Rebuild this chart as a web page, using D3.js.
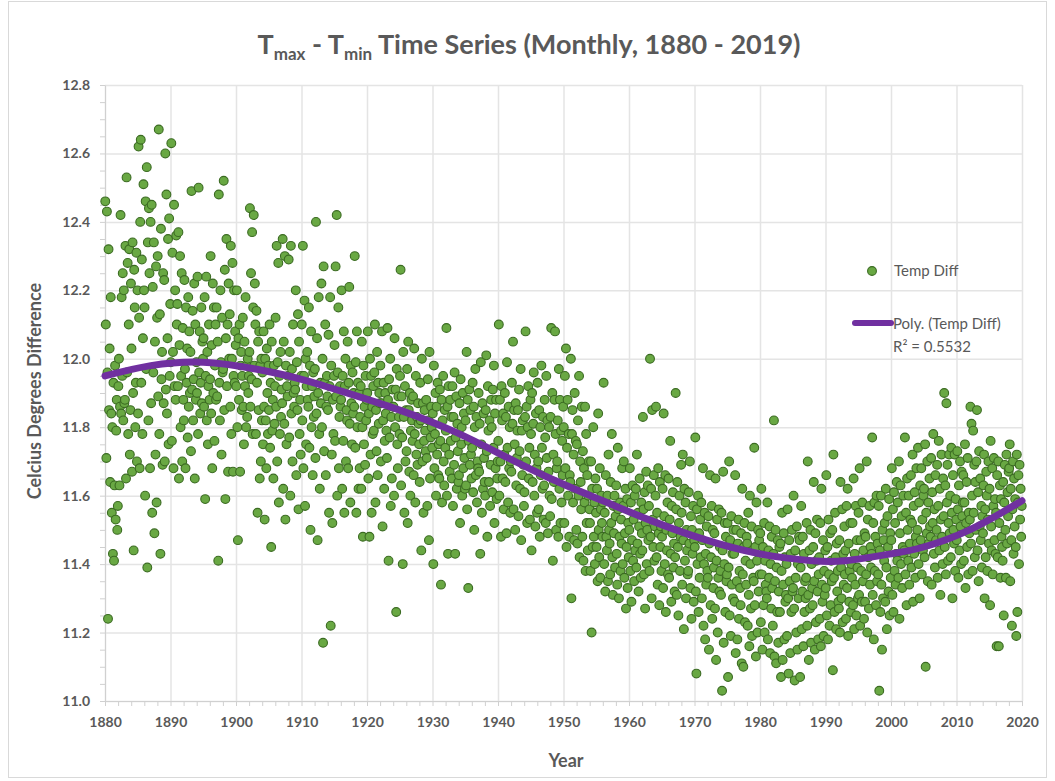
<!DOCTYPE html>
<html>
<head>
<meta charset="utf-8">
<script src="https://cdn.jsdelivr.net/npm/d3@7"></script>
<style>
  body { margin: 0; background: #fff; }
  svg { display: block; font-family: Lato, "Open Sans", sans-serif; }
</style>
</head>
<body>
<div id="chart"></div>
<script>
// monthly Tmax - Tmin values, one array per decade (12 per year)
const d1880s = [
  12.46,12.10,11.71,12.43,11.96,11.24,12.32,11.85,12.03,11.64,12.18,11.84,
  11.55,11.80,11.43,11.93,11.41,11.63,11.98,11.53,11.79,11.88,11.50,11.57,
  11.92,12.00,11.63,11.86,12.42,11.84,12.18,11.95,12.25,11.82,12.20,11.87,
  11.88,12.33,11.65,12.53,11.96,12.28,11.78,12.10,12.32,11.72,11.85,12.22,
  12.03,11.67,12.34,11.90,11.44,12.26,12.15,11.80,11.93,12.31,11.70,12.20,
  11.84,12.62,12.12,11.68,12.40,12.64,11.93,12.29,11.78,12.06,12.51,12.20,
  12.15,11.60,12.46,11.97,12.56,11.39,12.34,11.82,12.44,12.25,11.68,12.40,
  11.87,12.45,11.55,12.21,11.96,12.34,11.49,12.05,11.72,12.27,11.58,12.12,
  12.30,11.89,12.67,11.78,12.13,11.43,12.38,11.94,12.02,11.69,12.25,11.87,
  12.23,11.70,12.60,11.91,12.48,11.84,12.06,12.35,11.75,12.41,11.95,12.16
];
const d1890s = [
  11.99,12.63,11.76,12.31,12.02,11.68,12.45,11.92,12.20,11.88,12.36,12.10,
  12.16,11.92,12.37,11.65,12.04,12.30,11.80,11.95,12.25,11.70,12.09,11.88,
  11.82,12.23,11.97,11.68,12.15,11.93,12.03,11.77,12.18,11.86,12.08,11.90,
  12.02,11.73,12.49,11.91,12.14,11.82,11.94,12.22,11.65,12.10,11.88,11.99,
  11.90,12.24,11.78,12.50,11.96,12.08,11.84,11.93,12.15,11.87,12.05,12.00,
  12.06,11.86,12.18,11.59,11.95,12.24,11.82,12.02,11.75,11.92,12.10,11.88,
  11.94,12.30,11.84,12.04,11.68,12.22,11.90,12.15,11.76,11.98,12.10,11.88,
  12.15,11.89,12.05,11.41,12.48,11.93,11.82,12.20,11.99,11.72,12.12,11.96,
  11.97,12.52,11.85,12.26,11.59,12.06,12.35,11.92,12.10,11.67,12.22,12.00,
  12.13,11.86,12.33,11.78,12.00,12.28,11.67,11.95,12.20,11.93,12.08,12.04
];
const d1900s = [
  11.92,12.20,11.80,11.47,12.06,11.88,12.10,11.67,11.98,12.02,11.85,11.95,
  12.12,11.86,11.75,12.05,11.92,12.18,11.80,11.98,11.83,12.00,11.90,11.95,
  12.02,12.44,11.86,12.25,11.94,12.37,11.78,12.15,12.42,11.98,12.22,12.10,
  11.78,12.14,11.93,11.55,12.05,11.85,12.08,11.65,11.98,11.70,12.00,11.82,
  11.96,11.75,12.08,11.86,11.53,12.00,11.82,11.68,12.03,11.90,11.78,11.98,
  11.85,12.10,11.74,11.93,11.45,12.05,11.79,11.88,11.65,11.98,11.81,11.92,
  12.12,11.86,12.33,11.70,11.99,12.28,11.58,11.95,11.78,12.02,11.83,11.91,
  11.87,12.35,11.62,12.05,11.81,12.30,11.53,11.98,11.75,11.92,11.89,11.95,
  12.29,11.77,12.02,11.60,12.33,11.84,11.97,11.70,12.10,11.90,11.86,11.93,
  11.91,12.20,11.66,11.99,11.85,12.13,11.56,12.05,11.78,11.88,11.72,11.95
];
const d1910s = [
  12.10,11.82,12.33,11.68,11.95,12.17,11.57,12.00,11.75,11.92,12.02,11.88,
  11.86,12.15,11.74,11.98,11.50,12.08,11.80,11.92,11.66,11.96,11.83,11.89,
  11.97,11.71,12.40,11.84,12.06,11.47,11.90,12.18,11.78,11.62,11.93,11.87,
  12.22,11.80,12.00,11.17,12.27,11.73,11.93,12.10,11.66,11.86,11.95,11.89,
  11.85,12.07,11.55,11.92,12.18,11.22,11.98,11.72,11.52,11.88,11.78,11.95,
  12.04,11.76,12.27,11.89,12.42,11.60,11.96,12.15,11.68,11.83,11.92,11.86,
  11.88,12.20,11.62,11.95,11.76,12.08,11.55,11.92,12.00,11.70,11.85,11.82,
  12.05,11.68,11.93,12.21,11.81,11.58,11.98,11.87,11.75,11.96,11.84,11.90,
  11.86,12.30,11.74,11.99,11.55,12.08,11.80,11.93,11.62,11.90,11.68,11.83,
  11.92,11.62,12.05,11.80,11.48,11.98,11.75,11.86,11.69,11.95,11.82,11.88
];
const d1920s = [
  11.90,12.08,11.65,11.84,11.48,12.00,11.72,11.95,11.55,11.86,11.78,11.92,
  11.79,11.96,12.10,11.58,11.85,11.73,12.02,11.66,11.93,11.81,11.90,11.87,
  11.98,11.70,11.87,12.08,11.51,11.82,11.93,11.62,11.76,11.90,11.84,11.79,
  11.71,12.09,11.88,11.41,11.94,11.77,12.00,11.57,11.83,11.65,11.91,11.86,
  11.86,11.60,12.06,11.80,11.91,11.26,11.97,11.75,11.68,11.89,11.83,11.78,
  11.95,12.26,11.63,11.89,11.77,11.40,12.02,11.83,11.55,11.92,11.70,11.85,
  11.73,11.97,11.52,12.05,11.85,11.67,11.90,11.60,11.79,11.88,11.82,11.76,
  11.89,11.66,12.03,11.78,11.58,11.95,11.72,11.83,11.69,11.87,11.81,11.75,
  11.64,11.93,11.82,11.44,12.00,11.70,11.87,11.55,11.76,11.85,11.79,11.73,
  11.88,11.71,11.57,11.94,11.82,11.47,12.02,11.65,11.77,11.86,11.80,11.74
];
const d1930s = [
  11.84,11.40,11.98,11.68,11.78,11.90,11.60,11.86,11.72,11.93,11.66,11.75,
  11.65,11.91,11.76,11.34,11.88,11.58,11.82,11.95,11.70,11.63,11.85,11.74,
  11.79,12.09,11.60,11.86,11.43,11.92,11.72,11.67,11.88,11.76,11.83,11.65,
  11.92,11.57,11.83,11.69,11.96,11.43,11.77,11.89,11.62,11.81,11.73,11.64,
  11.66,11.87,11.52,11.94,11.75,11.80,11.60,11.90,11.68,11.84,11.71,11.62,
  11.82,11.63,12.02,11.56,11.88,11.33,11.76,11.91,11.69,11.85,11.72,11.65,
  11.74,11.93,11.61,11.86,11.50,11.80,11.97,11.66,11.83,11.58,11.70,11.68,
  11.90,11.67,11.81,11.43,11.99,11.75,11.55,11.87,11.62,11.84,11.71,11.64,
  11.60,11.85,12.01,11.73,11.48,11.92,11.79,11.64,11.82,11.57,11.69,11.88,
  11.80,11.61,11.91,11.74,11.98,11.52,11.84,11.68,11.88,11.59,11.65,11.70
];
const d1940s = [
  11.76,12.10,11.60,11.88,11.70,11.48,11.92,11.82,11.65,11.84,11.56,11.72,
  11.90,11.64,11.83,11.49,11.99,11.74,11.58,11.86,11.68,11.80,11.55,11.70,
  11.67,11.93,11.81,12.05,11.56,11.85,11.75,11.50,11.87,11.63,11.71,11.79,
  11.85,11.54,11.91,11.73,11.62,11.97,11.47,11.79,11.66,11.82,11.69,11.57,
  11.61,11.83,12.08,11.70,11.86,11.52,11.80,11.92,11.65,11.74,11.53,11.88,
  11.78,11.44,11.90,11.64,11.81,11.96,11.60,11.72,11.51,11.84,11.68,11.55,
  11.93,11.70,11.56,11.85,11.48,11.80,11.66,11.98,11.74,11.62,11.83,11.53,
  11.63,11.88,11.77,11.52,11.95,11.71,11.82,11.49,11.67,11.80,11.60,11.54,
  11.83,12.09,11.59,11.90,11.41,11.72,11.64,11.88,12.08,11.78,11.50,11.68,
  11.70,11.82,11.48,11.97,11.62,11.88,11.52,11.79,11.58,11.76,11.66,11.86
];
const d1950s = [
  11.80,11.52,11.95,11.68,12.03,11.45,11.74,11.88,11.60,11.78,11.48,11.66,
  11.64,12.00,11.30,11.78,11.85,11.58,11.72,11.47,11.90,11.62,11.76,11.50,
  11.75,11.46,11.82,11.60,11.95,11.42,11.70,11.64,11.56,11.86,11.48,11.73,
  11.41,11.68,11.58,11.86,11.38,11.78,11.52,11.66,11.44,11.60,11.70,11.56,
  11.52,11.38,11.70,11.20,11.62,11.45,11.80,11.48,11.58,11.40,11.65,11.55,
  11.45,11.62,11.35,11.84,11.50,11.42,11.68,11.36,11.56,11.60,11.52,11.48,
  11.58,11.93,11.40,11.55,11.32,11.66,11.48,11.44,11.60,11.35,11.72,11.50,
  11.46,11.37,11.64,11.52,11.78,11.42,11.31,11.57,11.49,11.60,11.39,11.54,
  11.63,11.43,11.34,11.74,11.56,11.30,11.48,11.58,11.38,11.53,11.46,11.68,
  11.40,11.57,11.70,11.36,11.49,11.62,11.27,11.45,11.59,11.33,11.52,11.42
];
const d1960s = [
  11.50,11.68,11.38,11.58,11.29,11.47,11.63,11.41,11.53,11.35,11.60,11.44,
  11.62,11.39,11.72,11.46,11.55,11.32,11.51,11.65,11.43,11.36,11.58,11.49,
  11.44,11.83,11.56,11.37,11.61,11.27,11.52,11.67,11.40,11.50,11.63,11.47,
  11.57,11.38,12.00,11.48,11.62,11.30,11.85,11.53,11.45,11.66,11.41,11.51,
  11.60,11.86,11.42,11.55,11.34,11.68,11.49,11.28,11.64,11.45,11.51,11.38,
  11.48,11.62,11.33,11.84,11.54,11.40,11.66,11.26,11.50,11.44,11.58,11.37,
  11.65,11.36,11.53,11.76,11.43,11.29,11.57,11.49,11.61,11.39,11.46,11.32,
  11.42,11.90,11.56,11.31,11.64,11.45,11.25,11.52,11.60,11.38,11.48,11.69,
  11.55,11.34,11.72,11.47,11.21,11.62,11.41,11.58,11.30,11.50,11.44,11.37,
  11.38,11.61,11.46,11.70,11.33,11.54,11.24,11.50,11.43,11.57,11.29,11.47
];
const d1970s = [
  11.45,11.77,11.32,11.08,11.56,11.40,11.60,11.26,11.49,11.36,11.53,11.42,
  11.58,11.30,11.47,11.68,11.22,11.40,11.55,11.18,11.43,11.34,11.51,11.38,
  11.36,11.54,11.15,11.46,11.66,11.28,11.42,11.57,11.24,11.50,11.33,11.39,
  11.49,11.27,11.65,11.12,11.41,11.53,11.20,11.36,11.56,11.32,11.45,11.38,
  11.31,11.55,11.03,11.44,11.67,11.17,11.40,11.52,11.26,11.48,11.35,11.37,
  11.52,11.07,11.39,11.70,11.25,11.47,11.19,11.54,11.34,11.43,11.30,11.50,
  11.43,11.29,11.66,11.14,11.50,11.35,11.18,11.46,11.53,11.24,11.38,11.33,
  11.28,11.49,11.11,11.62,11.37,11.10,11.45,11.52,11.23,11.41,11.34,11.48,
  11.46,11.22,11.55,11.31,11.16,11.60,11.40,11.27,11.51,11.19,11.44,11.36,
  11.35,11.74,11.28,11.45,11.13,11.58,11.41,11.20,11.50,11.32,11.47,11.37
];
const d1980s = [
  11.49,11.23,11.62,11.37,11.15,11.45,11.28,11.52,11.20,11.41,11.34,11.32,
  11.30,11.58,11.18,11.44,11.36,11.51,11.14,11.40,11.27,11.48,11.33,11.22,
  11.43,11.82,11.13,11.35,11.50,11.11,11.39,11.26,11.47,11.17,11.32,11.45,
  11.26,11.46,11.07,11.38,11.55,11.12,11.34,11.49,11.18,11.42,11.29,11.31,
  11.40,11.19,11.56,11.30,11.08,11.47,11.35,11.14,11.43,11.26,11.50,11.32,
  11.33,11.60,11.27,11.06,11.44,11.36,11.20,11.51,11.15,11.40,11.30,11.48,
  11.47,11.07,11.39,11.57,11.21,11.32,11.48,11.16,11.43,11.26,11.35,11.30,
  11.36,11.52,11.22,11.70,11.31,11.12,11.44,11.27,11.50,11.17,11.40,11.33,
  11.28,11.45,11.64,11.35,11.15,11.49,11.23,11.41,11.53,11.32,11.18,11.37,
  11.42,11.24,11.52,11.16,11.62,11.34,11.29,11.47,11.19,11.38,11.31,11.44
];
const d1990s = [
  11.33,11.66,11.25,11.45,11.18,11.53,11.37,11.22,11.49,11.28,11.41,11.35,
  11.50,11.09,11.72,11.36,11.26,11.55,11.42,11.21,11.46,11.32,11.38,11.29,
  11.27,11.47,11.20,11.64,11.39,11.30,11.56,11.23,11.43,11.34,11.51,11.37,
  11.44,11.24,11.57,11.33,11.62,11.19,11.46,11.29,11.38,11.52,11.26,11.40,
  11.36,11.52,11.28,11.65,11.21,11.43,11.34,11.57,11.25,11.47,11.39,11.30,
  11.55,11.31,11.68,11.22,11.47,11.38,11.29,11.58,11.35,11.44,11.24,11.49,
  11.29,11.48,11.37,11.70,11.20,11.53,11.42,11.27,11.57,11.34,11.45,11.39,
  11.43,11.77,11.31,11.52,11.18,11.58,11.38,11.48,11.28,11.60,11.35,11.46,
  11.37,11.57,11.03,11.44,11.26,11.60,11.34,11.15,11.50,11.30,11.47,11.41,
  11.52,11.29,11.62,11.39,11.21,11.54,11.45,11.32,11.59,11.25,11.49,11.36
];
const d2000s = [
  11.47,11.68,11.31,11.56,11.26,11.61,11.38,11.52,11.34,11.43,11.64,11.41,
  11.58,11.36,11.70,11.24,11.49,11.63,11.40,11.54,11.33,11.45,11.60,11.43,
  11.44,11.77,11.37,11.55,11.28,11.65,11.50,11.41,11.60,11.34,11.46,11.53,
  11.66,11.39,11.52,11.72,11.29,11.57,11.43,11.61,11.36,11.48,11.68,11.46,
  11.50,11.74,11.40,11.58,11.30,11.63,11.47,11.68,11.37,11.53,11.44,11.60,
  11.62,11.42,11.75,11.10,11.55,11.49,11.70,11.35,11.58,11.46,11.65,11.51,
  11.48,11.71,11.34,11.61,11.52,11.78,11.43,11.56,11.39,11.66,11.47,11.50,
  11.69,11.36,11.57,11.76,11.44,11.62,11.31,11.53,11.72,11.48,11.40,11.65,
  11.54,11.90,11.45,11.63,11.37,11.87,11.58,11.69,11.41,11.52,11.72,11.49,
  11.60,11.42,11.74,11.55,11.30,11.66,11.50,11.46,11.72,11.38,11.59,11.53
];
const d2010s = [
  11.47,11.73,11.56,11.36,11.63,11.44,11.70,11.51,11.40,11.67,11.54,11.58,
  11.66,11.41,11.58,11.75,11.33,11.52,11.64,11.45,11.71,11.37,11.55,11.49,
  11.53,11.86,11.46,11.81,11.60,11.38,11.79,11.55,11.69,11.42,11.64,11.50,
  11.70,11.85,11.44,11.61,11.35,11.73,11.51,11.65,11.47,11.57,11.39,11.54,
  11.49,11.63,11.72,11.30,11.56,11.42,11.67,11.60,11.38,11.53,11.70,11.46,
  11.62,11.28,11.76,11.51,11.44,11.68,11.37,11.57,11.71,11.47,11.59,11.43,
  11.55,11.16,11.66,11.42,11.70,11.16,11.52,11.63,11.36,11.59,11.48,11.45,
  11.41,11.64,11.25,11.58,11.69,11.50,11.36,11.72,11.46,11.61,11.54,11.67,
  11.68,11.75,11.35,11.62,11.47,11.22,11.56,11.70,11.43,11.65,11.51,11.59,
  11.45,11.19,11.72,11.26,11.58,11.66,11.40,11.69,11.53,11.62,11.48,11.57
];
const decadeStarts = [1880, 1890, 1900, 1910, 1920, 1930, 1940, 1950, 1960, 1970, 1980, 1990, 2000, 2010];
const decadeValues = [d1880s, d1890s, d1900s, d1910s, d1920s, d1930s, d1940s,
                      d1950s, d1960s, d1970s, d1980s, d1990s, d2000s, d2010s];

// polynomial trend line
const trendYears  = [1880, 1887, 1895, 1903, 1910, 1917, 1925, 1933, 1940, 1948,
                     1956, 1963, 1971, 1980, 1988, 1993, 2000, 2005, 2012, 2020];
const trendValues = [11.95, 11.98, 11.99, 11.97, 11.94, 11.90, 11.85, 11.79, 11.725, 11.65,
                     11.585, 11.53, 11.475, 11.43, 11.41, 11.41, 11.43, 11.45, 11.50, 11.585];

const yearTicks = [1880, 1890, 1900, 1910, 1920, 1930, 1940, 1950, 1960, 1970, 1980, 1990, 2000, 2010, 2020];
const tempTicks = [11.0, 11.2, 11.4, 11.6, 11.8, 12.0, 12.2, 12.4, 12.6, 12.8];

const width = 1055, height = 781;
const margin = {top: 85, right: 33, bottom: 80, left: 105};
const textColor = "#595959";

const svg = d3.select("#chart").append("svg")
    .attr("width", width)
    .attr("height", height);

svg.append("rect")
    .attr("x", 8.5).attr("y", 1.5)
    .attr("width", 1038).attr("height", 776)
    .attr("fill", "#fff")
    .attr("stroke", "#d9d9d9");

var x = d3.scaleLinear()
    .domain([1880, 2020])
    .range([margin.left, width - margin.right]);
var y = d3.scaleLinear()
    .domain([11.0, 12.8])
    .range([height - margin.bottom, margin.top]);

// gridlines
svg.append("g")
    .attr("transform", "translate(0," + y(11.0) + ")")
    .call(d3.axisBottom(x).tickValues(yearTicks).tickSize(-(y(11.0) - y(12.8))).tickFormat(""))
    .call(g => g.select(".domain").remove())
    .call(g => g.selectAll("line").attr("stroke", "#e4e4e4").attr("stroke-width", 1.5));
svg.append("g")
    .attr("transform", "translate(" + x(1880) + ",0)")
    .call(d3.axisLeft(y).tickValues(tempTicks).tickSize(-(x(2020) - x(1880))).tickFormat(""))
    .call(g => g.select(".domain").remove())
    .call(g => g.selectAll("line").attr("stroke", "#e4e4e4").attr("stroke-width", 1.5));

// minor ticks + axis lines
var yMinor = [];
for (var k = 0; k <= 36; k++) yMinor.push(11 + k * 0.05);
var xMinor = [];
for (var k = 0; k <= 70; k++) xMinor.push(1880 + k * 2);

svg.append("g")
    .attr("transform", "translate(" + x(1880) + ",0)")
    .call(d3.axisLeft(y).tickValues(yMinor).tickSize(5).tickFormat("").tickSizeOuter(0))
    .call(g => g.selectAll("line, path").attr("stroke", "#d0d0d0"));
svg.append("g")
    .attr("transform", "translate(0," + y(11.0) + ")")
    .call(d3.axisBottom(x).tickValues(xMinor).tickSize(5).tickFormat("").tickSizeOuter(0))
    .call(g => g.selectAll("line, path").attr("stroke", "#d0d0d0"));

// tick labels
svg.append("g")
    .attr("transform", "translate(" + x(1880) + ",0)")
    .call(d3.axisLeft(y).tickValues(tempTicks).tickSize(0).tickPadding(15).tickFormat(d3.format(".1f")))
    .call(g => g.select(".domain").remove())
    .call(g => g.selectAll("text")
        .attr("fill", textColor).attr("font-size", 14).attr("font-weight", 700)
        .attr("font-family", "Lato, sans-serif"));
svg.append("g")
    .attr("transform", "translate(0," + y(11.0) + ")")
    .call(d3.axisBottom(x).tickValues(yearTicks).tickSize(0).tickPadding(16).tickFormat(d3.format("d")))
    .call(g => g.select(".domain").remove())
    .call(g => g.selectAll("text")
        .attr("fill", textColor).attr("font-size", 14).attr("font-weight", 700)
        .attr("font-family", "Lato, sans-serif"));

// points
var points = [];
decadeValues.forEach((arr, k) => {
  arr.forEach((v, i) => points.push({year: decadeStarts[k] + (i + 0.5) / 12, value: v}));
});

svg.append("g")
  .selectAll("circle")
  .data(points)
  .enter()
  .append("circle")
    .attr("cx", d => x(d.year))
    .attr("cy", d => y(d.value))
    .attr("r", 4.4)
    .attr("fill", "#69a843")
    .attr("stroke", "#3b6b22")
    .attr("stroke-width", 1.1);

// trend line
var trend = trendYears.map((t, i) => [t, trendValues[i]]);
svg.append("path")
    .datum(trend)
    .attr("d", d3.line().x(d => x(d[0])).y(d => y(d[1])).curve(d3.curveNatural))
    .attr("fill", "none")
    .attr("stroke", "#7030a0")
    .attr("stroke-width", 7)
    .attr("stroke-linecap", "round");

// title
var title = svg.append("text")
    .attr("x", 529).attr("y", 54)
    .attr("text-anchor", "middle")
    .attr("fill", textColor)
    .attr("font-size", 27)
    .attr("font-weight", 700);
title.append("tspan").text("T");
title.append("tspan").attr("font-size", 17).attr("dy", 6).text("max");
title.append("tspan").attr("dy", -6).text(" - T");
title.append("tspan").attr("font-size", 17).attr("dy", 6).text("min");
title.append("tspan").attr("dy", -6).text(" Time Series (Monthly, 1880 - 2019)");

// axis titles
svg.append("text")
    .attr("x", 566).attr("y", 767)
    .attr("text-anchor", "middle")
    .attr("fill", textColor)
    .attr("font-size", 18).attr("font-weight", 700)
    .text("Year");
svg.append("text")
    .attr("transform", "translate(41,391) rotate(-90)")
    .attr("text-anchor", "middle")
    .attr("fill", textColor)
    .attr("font-size", 18).attr("font-weight", 700)
    .text("Celcius Degrees Difference");

// legend
var legend = svg.append("g").attr("font-size", 15).attr("fill", textColor);
legend.append("circle")
    .attr("cx", 872).attr("cy", 271).attr("r", 4.4)
    .attr("fill", "#69a843").attr("stroke", "#3b6b22").attr("stroke-width", 1.1);
legend.append("text").attr("x", 894).attr("y", 276).text("Temp Diff");
legend.append("line")
    .attr("x1", 855).attr("x2", 891).attr("y1", 323).attr("y2", 323)
    .attr("stroke", "#7030a0").attr("stroke-width", 6).attr("stroke-linecap", "round");
legend.append("text").attr("x", 893).attr("y", 329).text("Poly. (Temp Diff)");
legend.append("text").attr("x", 893).attr("y", 352).text("R² = 0.5532");
</script>
</body>
</html>
